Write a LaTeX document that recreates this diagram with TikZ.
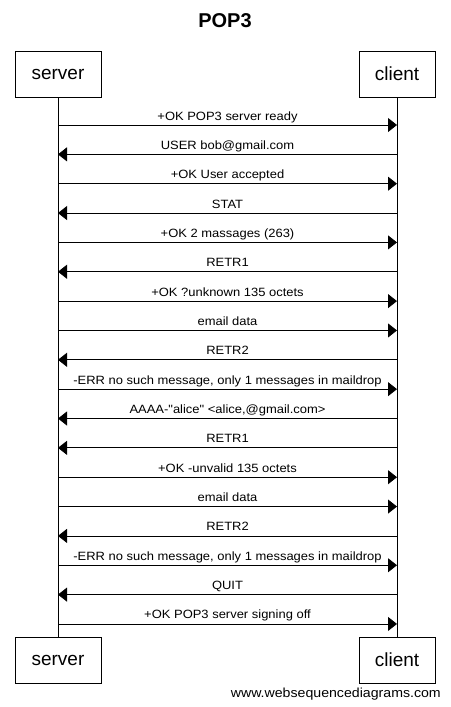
\documentclass[tikz,border=0pt]{standalone}
\usepackage{fontspec}
\setmainfont{Liberation Sans}
\newfontfamily\widefont[FakeStretch=1.08]{Liberation Sans}
\usetikzlibrary{arrows.meta}
\begin{document}
\begin{tikzpicture}[x=1pt,y=-1pt,
  actor/.style={draw,line width=0.8pt,minimum width=86pt,minimum height=46pt,inner sep=0pt,font=\fontsize{19}{19}\selectfont},
  msg/.style={line width=0.8pt,-{Triangle[length=9pt,width=14pt]}},
  lbl/.style={font=\widefont\fontsize{12}{12}\selectfont,inner sep=0pt,anchor=base},
  life/.style={line width=0.8pt}]
\useasboundingbox (0,0) rectangle (450,707);
\node[font=\bfseries\fontsize{20}{20}\selectfont] (title) at (225,21) {POP3};
\node[actor,minimum width=86pt] (s1) at (58,74) {server};
\node[actor,minimum width=76pt] (c1) at (397,74) {client};
\node[actor,minimum width=86pt] (s2) at (58,660) {server};
\node[actor,minimum width=76pt] (c2) at (397,660) {client};
\draw[life] (s1.south) -- (s2.north);
\draw[life] (c1.south) -- (c2.north);
% messages: y position, direction (1 = server to client), text
\foreach \i/\d/\t in {
  0/1/{+OK POP3 server ready},
  1/0/{USER bob@gmail.com},
  2/1/{+OK User accepted},
  3/0/{STAT},
  4/1/{+OK 2 massages (263)},
  5/0/{RETR1},
  6/1/{+OK ?unknown 135 octets},
  7/1/{email data},
  8/0/{RETR2},
  9/1/{-ERR no such message, only 1 messages in maildrop},
  10/0/{AAAA-"alice" <alice,@gmail.com>},
  11/0/{RETR1},
  12/1/{+OK -unvalid 135 octets},
  13/1/{email data},
  14/0/{RETR2},
  15/1/{-ERR no such message, only 1 messages in maildrop},
  16/0/{QUIT},
  17/1/{+OK POP3 server signing off}} {
  \pgfmathsetmacro{\yy}{125+29.35*\i}
  \coordinate (sp\i) at (58,\yy);
  \coordinate (cp\i) at (397,\yy);
  \ifnum\d=1
    \draw[msg] (sp\i) -- (cp\i);
  \else
    \draw[msg] (cp\i) -- (sp\i);
  \fi
  \node[lbl] (m\i) at (227.5,\yy-5) {\t};
}
\node[font=\widefont\fontsize{13.1}{13.1}\selectfont,anchor=base east,inner sep=0pt] (wm) at (441,697) {www.websequencediagrams.com};
\end{tikzpicture}
\end{document}
